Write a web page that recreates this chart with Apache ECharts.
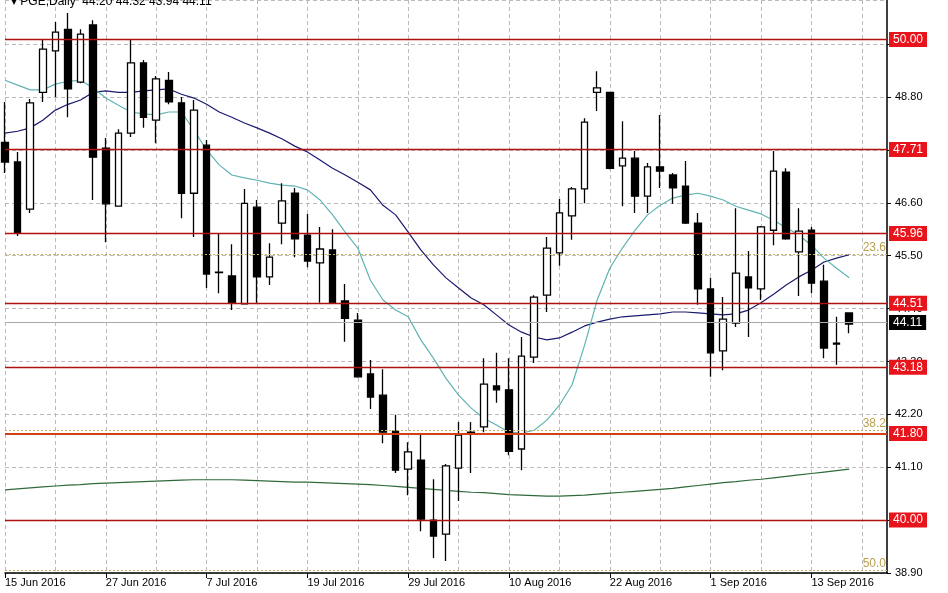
<!DOCTYPE html>
<html><head><meta charset="utf-8">
<script src="https://cdn.jsdelivr.net/npm/echarts@6/dist/echarts.min.js"></script>
<style>html,body{margin:0;padding:0;background:#fff}#c{width:948px;height:593px}</style>
</head><body><div id="c"></div>
<script>
const tickLabels=['15 Jun 2016','27 Jun 2016','7 Jul 2016','19 Jul 2016','29 Jul 2016','10 Aug 2016','22 Aug 2016','1 Sep 2016','13 Sep 2016'];
const open=[47.86,47.45,46.47,48.90,49.76,50.21,49.11,50.30,47.74,46.53,48.05,49.51,48.32,49.15,48.68,46.80,47.80,45.16,45.08,44.50,46.51,45.06,46.18,46.80,45.93,45.35,45.62,44.56,44.16,43.04,42.60,41.85,41.06,41.25,40.00,39.71,41.08,41.81,41.94,42.79,42.71,41.48,43.39,44.68,45.56,46.33,46.89,48.90,48.90,47.37,47.53,46.74,47.35,47.18,46.95,46.18,44.81,43.52,44.10,45.06,44.81,46.03,47.24,45.58,46.03,44.97,43.66,44.31];
const high=[48.70,47.66,48.76,49.99,50.36,50.55,50.21,50.40,47.95,48.13,49.99,49.57,49.24,49.32,48.80,48.74,47.91,45.95,45.74,46.89,46.66,45.76,47.01,46.91,46.37,46.10,46.05,44.91,44.31,43.33,43.14,42.19,41.62,41.77,40.85,41.17,42.04,42.04,43.37,43.48,43.37,43.81,44.68,45.89,46.68,46.93,48.36,49.34,48.90,48.30,47.68,47.43,48.43,47.22,47.47,46.39,45.04,44.64,46.49,45.60,46.12,47.68,47.32,46.49,46.10,45.31,44.23,44.31];
const low=[47.22,45.91,46.39,48.70,48.80,48.38,49.09,46.66,45.78,46.53,47.97,48.16,47.84,48.65,46.28,45.89,44.83,44.72,44.37,44.50,44.52,44.89,45.74,45.47,45.26,44.52,44.50,43.71,42.96,42.31,41.60,40.98,40.52,39.77,39.21,39.15,40.40,40.98,41.83,42.44,41.35,41.04,43.27,44.33,45.29,45.83,46.59,48.51,47.30,46.53,46.39,46.39,46.91,46.58,46.16,44.48,42.98,43.12,44.02,43.81,44.58,45.72,45.83,44.66,44.72,43.37,43.23,43.89];
const close=[47.45,45.97,48.68,49.80,50.15,48.97,50.11,47.55,46.58,48.05,49.51,48.38,49.18,48.70,46.80,48.53,45.12,45.15,44.52,46.59,45.06,45.47,46.64,45.85,45.39,45.64,44.52,44.20,42.98,42.56,41.83,41.04,41.42,40.02,39.67,41.13,41.77,41.83,42.83,42.71,41.43,43.41,44.64,45.66,46.39,46.89,48.28,48.99,47.32,47.53,46.74,47.35,47.26,46.91,46.18,44.81,43.48,44.18,45.14,44.83,46.10,47.26,45.85,46.01,44.93,43.58,43.68,44.08];
const maFast=[49.15,49.05,48.95,48.95,49.07,49.13,49.15,48.99,48.78,48.63,48.49,48.45,48.43,48.49,48.49,48.11,47.70,47.39,47.18,47.12,47.07,47.01,46.97,46.95,46.87,46.66,46.35,45.99,45.66,44.99,44.58,44.37,44.23,43.75,43.37,42.95,42.60,42.33,42.12,41.98,41.83,41.81,41.87,42.08,42.39,42.81,43.64,44.58,45.24,45.66,46.03,46.35,46.55,46.70,46.76,46.80,46.74,46.66,46.53,46.45,46.37,46.24,46.08,45.93,45.72,45.45,45.24,45.04];
const maMid=[48.05,48.09,48.16,48.32,48.53,48.65,48.74,48.90,48.93,48.90,48.90,48.93,48.95,48.97,48.86,48.78,48.65,48.49,48.38,48.26,48.16,48.05,47.93,47.78,47.66,47.49,47.32,47.18,47.03,46.87,46.55,46.35,45.99,45.62,45.31,45.04,44.83,44.62,44.48,44.27,44.06,43.91,43.81,43.75,43.79,43.91,44.04,44.12,44.18,44.23,44.25,44.27,44.29,44.33,44.33,44.31,44.29,44.27,44.29,44.37,44.52,44.70,44.89,45.06,45.20,45.37,45.45,45.52];
const maSlow=[40.63,40.65,40.67,40.69,40.71,40.73,40.74,40.76,40.77,40.78,40.79,40.80,40.81,40.82,40.83,40.84,40.84,40.84,40.84,40.83,40.82,40.81,40.80,40.79,40.79,40.78,40.77,40.76,40.75,40.74,40.72,40.70,40.68,40.66,40.64,40.62,40.60,40.58,40.57,40.55,40.53,40.52,40.51,40.50,40.50,40.51,40.52,40.54,40.56,40.58,40.60,40.62,40.64,40.66,40.69,40.72,40.75,40.78,40.80,40.83,40.85,40.88,40.91,40.94,40.97,41.00,41.03,41.06];
const levels=[50.00,47.71,45.96,44.51,43.18,41.80,40.00];
const fibLevels=[45.53,41.86,38.95];
const fibNames=['23.6','38.2','50.0'];
const lastPrice=44.11;

const months=['Jan','Feb','Mar','Apr','May','Jun','Jul','Aug','Sep','Oct','Nov','Dec'];
const cats=[];let d=new Date(Date.UTC(2016,5,15));
while(cats.length<71){const w=d.getUTCDay();if(w!==0&&w!==6)cats.push(d.getUTCDate()+' '+months[d.getUTCMonth()]+' 2016');d=new Date(d.getTime()+86400000);}
const ohlc=open.map((o,i)=>[o,close[i],low[i],high[i]]);

const redLines=levels.map(v=>({yAxis:v,lineStyle:{color:v===41.80?'#d2401a':'#b01010',width:v===41.80?2:1.3,type:'solid'},
  label:{show:true,position:'end',formatter:v.toFixed(2),color:'#fff',backgroundColor:'#e8141b',padding:[2,4,1,4],fontSize:12,fontFamily:'Liberation Sans',distance:2}}));
const fibLines=fibLevels.map((v,i)=>({yAxis:v,lineStyle:{color:'#c8b060',width:1,type:[2,2]},
  label:{show:true,position:'insideEndTop',formatter:fibNames[i],color:'#b8a050',fontSize:12,fontFamily:'Liberation Sans',distance:1}}));
const lastLine={yAxis:lastPrice,lineStyle:{color:'#aaaaaa',width:1,type:'solid'},
  label:{show:true,position:'end',formatter:lastPrice.toFixed(2),color:'#fff',backgroundColor:'#000',padding:[2,4,1,4],fontSize:12,fontFamily:'Liberation Sans',distance:2}};

const chart=echarts.init(document.getElementById('c'));
chart.setOption({
  animation:false,
  title:{text:'▾ PGE,Daily  44.20 44.32 43.94 44.11',left:6,top:-9,textStyle:{fontSize:12,fontWeight:'normal',color:'#000',fontFamily:'Liberation Sans'}},
  grid:{left:5,right:61,top:0,bottom:20},
  xAxis:{type:'category',data:cats,boundaryGap:false,
    axisLine:{lineStyle:{color:'#000',width:1.5}},
    axisTick:{interval:7,length:5,lineStyle:{color:'#000'}},
    axisLabel:{interval:7,color:'#000',fontSize:11,fontFamily:'Liberation Sans',align:'left',margin:4,
      formatter:(v,i)=>tickLabels[i/8]||''},
    splitLine:{show:true,interval:3,lineStyle:{color:'#bbb',type:[4,3]}}},
  yAxis:{type:'value',position:'right',min:38.9,max:50.82,interval:1.1,
    axisLine:{show:true,lineStyle:{color:'#000',width:1.5}},
    axisTick:{show:true,length:4,lineStyle:{color:'#000'}},
    axisLabel:{color:'#000',fontSize:11,fontFamily:'Liberation Sans',formatter:v=>v.toFixed(2),showMaxLabel:false},
    splitLine:{show:true,lineStyle:{color:'#bbb',type:[4,3]}}},
  series:[
    {type:'line',data:maSlow,symbol:'none',lineStyle:{color:'#2e6b3a',width:1.2},z:2},
    {type:'line',data:maMid,symbol:'none',lineStyle:{color:'#1a1a6e',width:1.2},z:2},
    {type:'line',data:maFast,symbol:'none',lineStyle:{color:'#5fb3b3',width:1.2},z:2},
    {type:'candlestick',data:ohlc,barWidth:7,z:3,
      itemStyle:{color:'#fff',color0:'#000',borderColor:'#000',borderColor0:'#000',borderWidth:1.3},
      markLine:{symbol:'none',silent:true,animation:false,data:[...fibLines,...redLines,lastLine]}}
  ]
});
</script></body></html>
